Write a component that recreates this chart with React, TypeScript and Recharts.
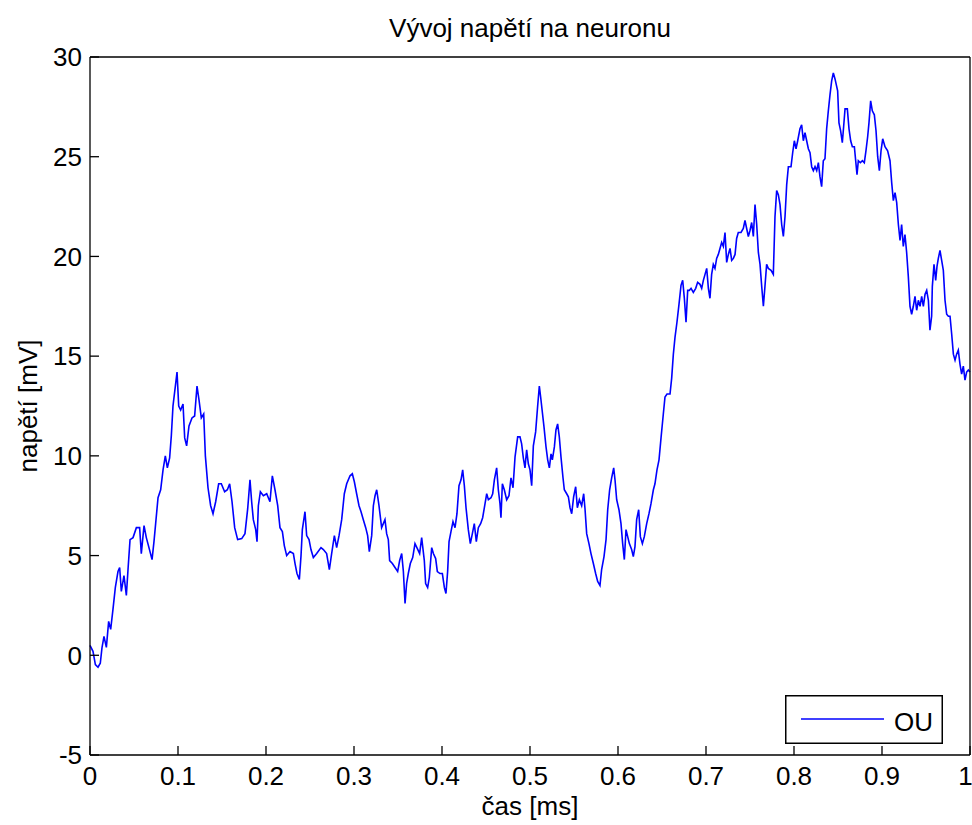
import React from 'react';
import { LineChart, Line, XAxis, YAxis, Legend } from 'recharts';

const casMs = [
  0, 0.0034, 0.0061, 0.0091, 0.0117, 0.0136, 0.0159, 0.0186, 0.0212, 0.0235,
  0.0261, 0.0288, 0.0318, 0.0337, 0.0356, 0.0386, 0.0413, 0.0432, 0.0455, 0.0489,
  0.0527, 0.0564, 0.0583, 0.0614, 0.064, 0.067, 0.0705, 0.0727, 0.0746, 0.0773,
  0.0803, 0.083, 0.0856, 0.0879, 0.0905, 0.0924, 0.0943, 0.097, 0.0989, 0.1008,
  0.103, 0.1057, 0.1076, 0.1098, 0.1125, 0.1159, 0.1189, 0.1216, 0.1239, 0.1265,
  0.1292, 0.1311, 0.1341, 0.1371, 0.1398, 0.1428, 0.1462, 0.1492, 0.153, 0.1561,
  0.1587, 0.1614, 0.1644, 0.1678, 0.1724, 0.1761, 0.1792, 0.1818, 0.1837, 0.1856,
  0.1883, 0.1898, 0.1913, 0.1936, 0.197, 0.2008, 0.2045, 0.2072, 0.2102, 0.2133,
  0.2159, 0.2186, 0.2208, 0.2235, 0.2273, 0.2311, 0.233, 0.2352, 0.2379, 0.2398,
  0.2413, 0.2443, 0.2462, 0.2489, 0.2511, 0.2538, 0.2576, 0.2625, 0.2652, 0.2689,
  0.272, 0.2746, 0.2777, 0.2803, 0.283, 0.286, 0.289, 0.2917, 0.2955, 0.2981,
  0.3004, 0.303, 0.3057, 0.308, 0.3106, 0.3133, 0.3155, 0.3174, 0.3201, 0.322,
  0.3239, 0.3258, 0.3284, 0.3314, 0.3352, 0.3371, 0.339, 0.3405, 0.3436, 0.3466,
  0.3496, 0.3519, 0.3542, 0.3561, 0.358, 0.3598, 0.3617, 0.364, 0.3667, 0.3693,
  0.372, 0.3746, 0.3769, 0.3799, 0.3814, 0.3837, 0.3856, 0.3883, 0.3902, 0.3928,
  0.3947, 0.3977, 0.4004, 0.4027, 0.4045, 0.4064, 0.408, 0.4102, 0.4125, 0.4148,
  0.417, 0.4193, 0.4216, 0.4235, 0.4254, 0.4273, 0.4299, 0.4322, 0.4345, 0.4367,
  0.439, 0.4413, 0.4439, 0.4462, 0.4489, 0.4508, 0.4527, 0.4557, 0.4576, 0.4595,
  0.4621, 0.464, 0.4659, 0.467, 0.4686, 0.4708, 0.4735, 0.4761, 0.4784, 0.4807,
  0.483, 0.486, 0.4886, 0.4905, 0.4924, 0.4943, 0.4962, 0.4981, 0.5, 0.5019,
  0.5038, 0.5064, 0.5087, 0.5106, 0.5121, 0.514, 0.5159, 0.5182, 0.5201, 0.522,
  0.5239, 0.5254, 0.5277, 0.5295, 0.5314, 0.5333, 0.5352, 0.5375, 0.539, 0.5417,
  0.5436, 0.5455, 0.5474, 0.5496, 0.5519, 0.5538, 0.5561, 0.5587, 0.561, 0.5625,
  0.5644, 0.567, 0.5693, 0.572, 0.5746, 0.5769, 0.5795, 0.5814, 0.5841, 0.5864,
  0.5883, 0.5905, 0.5928, 0.5951, 0.5966, 0.5985, 0.6011, 0.6034, 0.6053, 0.6072,
  0.6091, 0.611, 0.6129, 0.6155, 0.6174, 0.6193, 0.6212, 0.6235, 0.6254, 0.6277,
  0.6299, 0.6326, 0.6352, 0.6375, 0.6402, 0.642, 0.6443, 0.6466, 0.6489, 0.6515,
  0.6534, 0.6557, 0.6591, 0.661, 0.6629, 0.6648, 0.667, 0.6693, 0.6716, 0.6735,
  0.6754, 0.6773, 0.6792, 0.6811, 0.683, 0.6856, 0.6883, 0.6905, 0.6932, 0.6951,
  0.697, 0.6989, 0.7008, 0.7027, 0.7045, 0.7064, 0.7083, 0.7102, 0.7121, 0.714,
  0.7159, 0.7178, 0.7197, 0.7216, 0.7235, 0.7254, 0.7273, 0.7292, 0.7311, 0.733,
  0.7348, 0.7367, 0.7398, 0.7424, 0.7443, 0.7462, 0.7481, 0.75, 0.7519, 0.7538,
  0.7557, 0.7576, 0.7595, 0.7614, 0.7633, 0.7652, 0.767, 0.7689, 0.7708, 0.7739,
  0.7765, 0.7784, 0.7803, 0.7822, 0.7841, 0.786, 0.7879, 0.7898, 0.7917, 0.7936,
  0.7966, 0.7985, 0.8004, 0.8023, 0.8042, 0.8068, 0.8087, 0.8106, 0.8125, 0.8144,
  0.8163, 0.8182, 0.8201, 0.822, 0.8239, 0.8258, 0.8277, 0.8295, 0.8314, 0.8333,
  0.8352, 0.8371, 0.839, 0.8409, 0.8428, 0.8447, 0.8466, 0.8496, 0.8511, 0.853,
  0.8549, 0.8564, 0.858, 0.8606, 0.8625, 0.8644, 0.8663, 0.8686, 0.8701, 0.8716,
  0.8731, 0.8754, 0.8777, 0.8799, 0.8818, 0.8837, 0.8852, 0.8871, 0.889, 0.8913,
  0.8932, 0.8951, 0.897, 0.8989, 0.9008, 0.9034, 0.9064, 0.9091, 0.911, 0.9129,
  0.9148, 0.9167, 0.9186, 0.9205, 0.9223, 0.9242, 0.9261, 0.928, 0.9299, 0.9318,
  0.9337, 0.9356, 0.9375, 0.9394, 0.9413, 0.9432, 0.9451, 0.947, 0.9489, 0.9508,
  0.9527, 0.9545, 0.9564, 0.9572, 0.9591, 0.961, 0.9625, 0.964, 0.9659, 0.9678,
  0.9697, 0.9716, 0.9735, 0.9754, 0.9773, 0.9792, 0.9811, 0.983, 0.9848, 0.9867,
  0.9886, 0.9905, 0.9924, 0.9943, 0.9962, 0.9981, 1.0,
];

// napětí [mV] (OU proces)
const napeti = [
  0.5, 0.2, -0.47, -0.6, -0.4, 0.37, 0.95, 0.4, 1.7, 1.3,
  2.3, 3.4, 4.2, 4.4, 3.2, 4.0, 3.0, 4.3, 5.8, 5.9,
  6.4, 6.4, 5.1, 6.5, 5.9, 5.4, 4.8, 5.7, 6.6, 7.9,
  8.3, 9.3, 10.0, 9.4, 9.9, 11.0, 12.5, 13.5, 14.2, 12.5,
  12.3, 12.6, 10.9, 10.5, 11.5, 11.9, 12.0, 13.5, 12.8, 11.9,
  12.1, 10.0, 8.4, 7.5, 7.1, 7.7, 8.6, 8.6, 8.2, 8.3,
  8.6, 7.7, 6.4, 5.8, 5.85, 6.1, 7.35, 8.8, 7.7, 6.8,
  6.3, 5.7, 7.5, 8.2, 8.0, 8.1, 7.7, 9.0, 8.3, 7.5,
  6.4, 6.2, 5.5, 5.0, 5.2, 5.1, 4.6, 4.1, 3.8, 5.0,
  6.3, 7.2, 6.0, 5.8, 5.3, 4.9, 5.1, 5.4, 5.3, 5.1,
  4.3, 5.1, 6.0, 5.4, 6.0, 6.8, 8.1, 8.6, 9.0, 9.1,
  8.7, 8.1, 7.5, 7.2, 6.8, 6.4, 6.0, 5.2, 6.0, 7.5,
  8.0, 8.3, 7.5, 6.4, 6.8, 6.1, 5.8, 4.75, 4.6, 4.4,
  4.2, 4.75, 5.1, 4.2, 2.6, 3.6, 4.1, 4.6, 4.9, 5.6,
  5.35, 5.1, 5.9, 4.75, 3.6, 3.4, 3.9, 5.4, 5.1, 4.85,
  4.2, 4.1, 4.1, 3.4, 3.1, 4.2, 5.7, 6.2, 6.7, 6.4,
  7.1, 8.5, 8.8, 9.3, 8.5, 7.4, 6.3, 5.6, 6.1, 6.6,
  5.7, 6.4, 6.6, 6.9, 7.6, 8.1, 7.8, 7.9, 8.1, 8.8,
  9.4, 8.3, 7.6, 6.9, 8.6, 8.3, 7.8, 8.0, 8.9, 8.4,
  9.95, 10.95, 10.95, 10.6, 9.9, 9.4, 10.3, 9.6, 9.3, 8.5,
  10.5, 11.2, 12.5, 13.5, 12.95, 12.2, 11.45, 10.45, 9.8, 9.4,
  10.1, 9.8, 10.45, 11.3, 11.6, 10.95, 9.95, 8.9, 8.3, 8.1,
  7.95, 7.4, 7.1, 7.95, 8.45, 7.4, 7.8, 7.5, 8.1, 7.35,
  6.1, 5.6, 5.1, 4.6, 4.1, 3.7, 3.5, 4.3, 4.95, 5.8,
  7.3, 8.3, 8.9, 9.4, 8.8, 7.8, 7.3, 6.6, 5.6, 4.8,
  6.3, 5.95, 5.6, 5.3, 4.95, 5.45, 6.8, 7.3, 5.95, 5.6,
  5.95, 6.6, 7.1, 7.6, 8.3, 8.6, 9.3, 9.8, 10.9, 12.1,
  12.95, 13.1, 13.1, 13.9, 15.1, 15.95, 16.7, 17.6, 18.55, 18.8,
  17.9, 16.7, 18.3, 18.3, 18.4, 18.2, 18.4, 18.7, 18.6, 18.4,
  18.8, 19.1, 19.4, 18.4, 17.9, 19.1, 19.6, 19.4, 19.9, 20.1,
  20.4, 20.7, 20.5, 21.2, 19.7, 20.1, 20.4, 19.8, 19.9, 20.1,
  20.9, 21.2, 21.2, 21.4, 21.8, 21.4, 21.0, 21.3, 21.7, 21.0,
  22.6, 21.6, 20.2, 19.6, 18.5, 17.5, 18.5, 19.6, 19.4, 19.3,
  19.1, 22.0, 23.3, 23.1, 22.6, 21.6, 21.0, 22.0, 23.6, 24.5,
  24.5, 25.2, 25.8, 25.4, 25.8, 26.4, 26.6, 25.8, 26.2, 25.8,
  25.4, 25.2, 24.5, 24.3, 24.5, 24.3, 24.7, 24.0, 23.5, 24.8,
  24.9, 26.4, 27.3, 28.1, 28.8, 29.2, 28.9, 28.3, 26.7, 26.3,
  25.7, 26.5, 27.4, 27.4, 26.4, 25.8, 25.5, 25.5, 24.8, 24.1,
  24.8, 24.7, 24.8, 24.7, 25.3, 26.0, 26.7, 27.8, 27.3, 27.1,
  26.3, 25.0, 24.3, 25.3, 25.9, 25.5, 25.3, 24.8, 23.7, 22.8,
  23.2, 22.7, 21.6, 20.8, 21.6, 20.5, 21.1, 20.2, 19.0, 17.5,
  17.1, 17.5, 18.0, 17.3, 17.8, 17.5, 18.0, 17.5, 18.1, 18.3,
  17.8, 16.3, 17.0, 18.5, 19.6, 18.8, 19.5, 19.9, 20.3, 19.8,
  19.3, 17.8, 17.1, 17.0, 17.0, 16.1, 15.1, 14.8, 15.1, 15.3,
  14.6, 14.1, 14.5, 13.8, 14.2, 14.3, 14.2,
];

const xTicks = [0, 0.1, 0.2, 0.3, 0.4, 0.5, 0.6, 0.7, 0.8, 0.9, 1];
const yTicks = [-5, 0, 5, 10, 15, 20, 25, 30];

const data = casMs.map((t, i) => ({ t, u: napeti[i] }));

const FONT = '"Liberation Sans", Arial, Helvetica, sans-serif';
const axisStroke = { stroke: '#000', strokeWidth: 1.3 };
const tickText = { fill: '#000', fontSize: 26, fontFamily: FONT };

const LegendBox = () => (
  <svg width={158} height={49}>
    <rect x={0.75} y={0.75} width={156.5} height={47.5} fill="#fff" stroke="#000" strokeWidth={1.5} />
    <line x1={16} x2={99} y1={24} y2={24} stroke="#0000ff" strokeWidth={1.6} />
    <text x={109} y={36} fontSize={26} fontFamily={FONT} fill="#000">OU</text>
  </svg>
);

export default function App() {
  return (
    <div style={{ position: 'absolute', left: 0, top: 0, width: 972, height: 825, background: '#fff', fontFamily: FONT }}>
      <div style={{ position: 'absolute', left: 90, top: 13, width: 880, textAlign: 'center', fontSize: 26, color: '#000' }}>
        Vývoj napětí na neuronu
      </div>
      <LineChart width={972} height={825} data={data} margin={{ top: 56, right: 1, bottom: 0, left: 0 }}>
        <XAxis
          xAxisId="b"
          dataKey="t"
          type="number"
          domain={[0, 1]}
          ticks={xTicks}
          height={70}
          tickSize={-9}
          tickMargin={21}
          axisLine={axisStroke}
          tickLine={axisStroke}
          tick={tickText}
          label={{ value: 'čas [ms]', position: 'insideBottom', offset: 10, fill: '#000', fontSize: 26, fontFamily: FONT }}
        />
        <XAxis
          xAxisId="t"
          dataKey="t"
          type="number"
          orientation="top"
          domain={[0, 1]}
          ticks={xTicks}
          height={1}
          tickSize={-9}
          axisLine={axisStroke}
          tickLine={axisStroke}
          tick={false}
        />
        <YAxis
          yAxisId="l"
          type="number"
          domain={[-5, 30]}
          ticks={yTicks}
          width={90}
          tickSize={-9}
          tickMargin={17}
          axisLine={axisStroke}
          tickLine={axisStroke}
          tick={tickText}
          label={{ value: 'napětí [mV]', angle: -90, position: 'insideLeft', offset: 28, fill: '#000', fontSize: 26, fontFamily: FONT, style: { textAnchor: 'middle' } }}
        />
        <YAxis
          yAxisId="r"
          type="number"
          orientation="right"
          domain={[-5, 30]}
          ticks={yTicks}
          width={1}
          tickSize={-9}
          axisLine={axisStroke}
          tickLine={axisStroke}
          tick={false}
        />
        <Legend
          layout="horizontal"
          verticalAlign="middle"
          align="center"
          wrapperStyle={{ left: 785, top: 695, width: 158, height: 49 }}
          content={() => <LegendBox />}
        />
        <Line
          xAxisId="t"
          yAxisId="r"
          dataKey="u"
          type="linear"
          stroke="none"
          dot={false}
          activeDot={false}
          legendType="none"
          isAnimationActive={false}
        />
        <Line
          xAxisId="b"
          yAxisId="l"
          dataKey="u"
          name="OU"
          type="linear"
          stroke="#0000ff"
          strokeWidth={1.6}
          dot={false}
          isAnimationActive={false}
        />
      </LineChart>
    </div>
  );
}
